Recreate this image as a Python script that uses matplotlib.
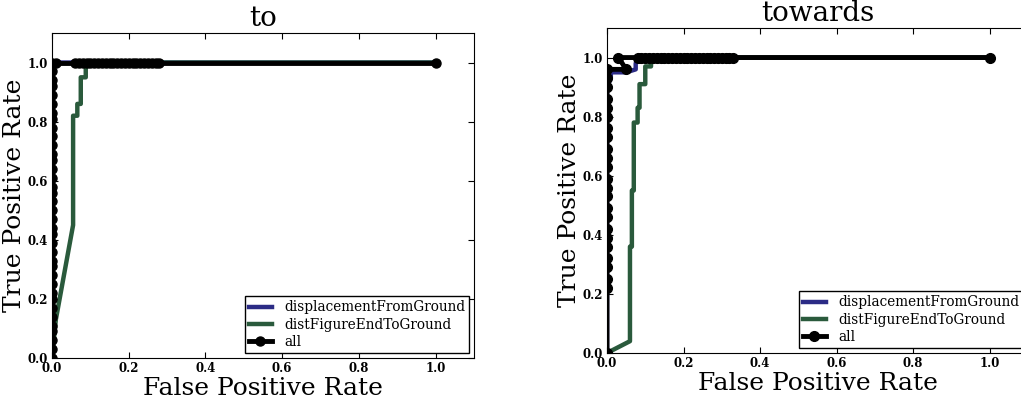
import matplotlib
matplotlib.use('Agg')
from matplotlib import pyplot as plt

plt.rcParams['font.family'] = ['DejaVu Serif']

# ---- "to" ----
to_disp_x = [0.0, 0.0, 0.005, 0.005, 1.0]
to_disp_y = [0.0, 0.96, 0.97, 1.0, 1.0]
to_dist_x = [0.0, 0.01, 0.055, 0.055, 0.066, 0.066, 0.075, 0.075, 0.088, 0.088, 1.0]
to_dist_y = [0.0, 0.13, 0.45, 0.82, 0.82, 0.86, 0.86, 0.95, 0.95, 1.0, 1.0]
to_all_x = [0.0, 0.0, 0.0, 0.0, 0.0, 0.0, 0.0, 0.0, 0.0, 0.0, 0.0, 0.0, 0.0, 0.0, 0.0,
            0.0, 0.0, 0.0, 0.0, 0.0, 0.0, 0.0, 0.0, 0.0, 0.0, 0.0, 0.0, 0.0, 0.0, 0.0,
            0.0, 0.0, 0.0, 0.0, 0.0, 0.0, 0.0, 0.01,
            0.06, 0.07, 0.08, 0.09, 0.10, 0.11, 0.12, 0.13, 0.14, 0.15, 0.16, 0.17, 0.18,
            0.19, 0.20, 0.21, 0.22, 0.23, 0.24, 0.25, 0.26, 0.27, 0.28, 1.0]
to_all_y = [0.0, 0.03, 0.06, 0.09, 0.11, 0.14, 0.17, 0.20, 0.22, 0.25, 0.28, 0.31, 0.33,
            0.36, 0.39, 0.42, 0.44, 0.47, 0.50, 0.53, 0.56, 0.58, 0.61, 0.64, 0.67, 0.69,
            0.72, 0.75, 0.78, 0.81, 0.83, 0.86, 0.89, 0.92, 0.94, 0.97, 1.0, 1.0,
            1.0, 1.0, 1.0, 1.0, 1.0, 1.0, 1.0, 1.0, 1.0, 1.0, 1.0, 1.0, 1.0,
            1.0, 1.0, 1.0, 1.0, 1.0, 1.0, 1.0, 1.0, 1.0, 1.0, 1.0]

# ---- "towards" ----
tw_disp_x = [0.0, 0.0, 0.01, 0.01, 0.05, 0.075, 0.075, 0.08, 1.0]
tw_disp_y = [0.0, 0.90, 0.93, 0.95, 0.95, 0.96, 0.98, 1.0, 1.0]
tw_dist_x = [0.0, 0.06, 0.06, 0.065, 0.065, 0.07, 0.07, 0.08, 0.08, 0.085, 0.085,
             0.10, 0.10, 0.115, 0.115, 1.0]
tw_dist_y = [0.0, 0.04, 0.36, 0.36, 0.55, 0.55, 0.78, 0.78, 0.83, 0.83, 0.91,
             0.91, 0.97, 0.97, 1.0, 1.0]
tw_all_x = [0.0, 0.0, 0.0, 0.0, 0.0, 0.0, 0.0, 0.0, 0.0, 0.0, 0.0, 0.0, 0.0, 0.0,
            0.0, 0.0, 0.0, 0.0, 0.0, 0.0, 0.0, 0.0, 0.0, 0.0,
            0.05, 0.03, 0.08, 0.09, 0.10, 0.11, 0.12, 0.13, 0.14, 0.15, 0.16, 0.17,
            0.18, 0.19, 0.20, 0.21, 0.22, 0.23, 0.24, 0.25, 0.26, 0.27, 0.28, 0.29,
            0.30, 0.31, 0.32, 0.33, 1.0]
tw_all_y = [0.0, 0.22, 0.25, 0.29, 0.32, 0.36, 0.39, 0.42, 0.46, 0.49, 0.53, 0.56,
            0.59, 0.63, 0.66, 0.69, 0.73, 0.76, 0.80, 0.83, 0.86, 0.90, 0.93, 0.96,
            0.96, 1.0, 1.0, 1.0, 1.0, 1.0, 1.0, 1.0, 1.0, 1.0, 1.0, 1.0,
            1.0, 1.0, 1.0, 1.0, 1.0, 1.0, 1.0, 1.0, 1.0, 1.0, 1.0, 1.0,
            1.0, 1.0, 1.0, 1.0, 1.0]

c_disp = '#2b2b85'
c_dist = '#2a5a3c'

fig = plt.figure(figsize=(10.21, 3.98), dpi=100)
ax1 = fig.add_axes([52 / 1021, 40 / 398, 422 / 1021, 325 / 398])
ax2 = fig.add_axes([607 / 1021, 45 / 398, 421 / 1021, 325 / 398])

panels = [
    (ax1, 'to', to_disp_x, to_disp_y, to_dist_x, to_dist_y, to_all_x, to_all_y, 6.5),
    (ax2, 'towards', tw_disp_x, tw_disp_y, tw_dist_x, tw_dist_y, tw_all_x, tw_all_y, 7),
]
for ax, title, dx, dy, gx, gy, ax_, ay, ms in panels:
    ax.plot(dx, dy, color=c_disp, lw=3.2, label='displacementFromGround')
    ax.plot(gx, gy, color=c_dist, lw=3.2, label='distFigureEndToGround')
    ax.plot(ax_, ay, color='black', lw=3.5, marker='o', ms=ms, label='all')
    ax.set_xlim(0, 1.1)
    ax.set_ylim(0, 1.1)
    ax.set_xticks([0.0, 0.2, 0.4, 0.6, 0.8, 1.0])
    ax.set_yticks([0.0, 0.2, 0.4, 0.6, 0.8, 1.0])
    ax.tick_params(direction='in', top=True, right=True, labelsize=8.5, length=4, pad=3)
    for lab in ax.get_xticklabels() + ax.get_yticklabels():
        lab.set_fontweight('bold')
    ax.set_title(title, fontsize=20, pad=5)
    ax.set_xlabel('False Positive Rate', fontsize=18, labelpad=1)
    ax.set_ylabel('True Positive Rate', fontsize=18, labelpad=1)
    ax.legend(loc='lower right', fontsize=9.8, fancybox=False, framealpha=1,
              edgecolor='black', handlelength=1.7, handletextpad=0.9,
              borderaxespad=0.35, labelspacing=0.25, borderpad=0.3)

fig.savefig('out.png', dpi=100)
